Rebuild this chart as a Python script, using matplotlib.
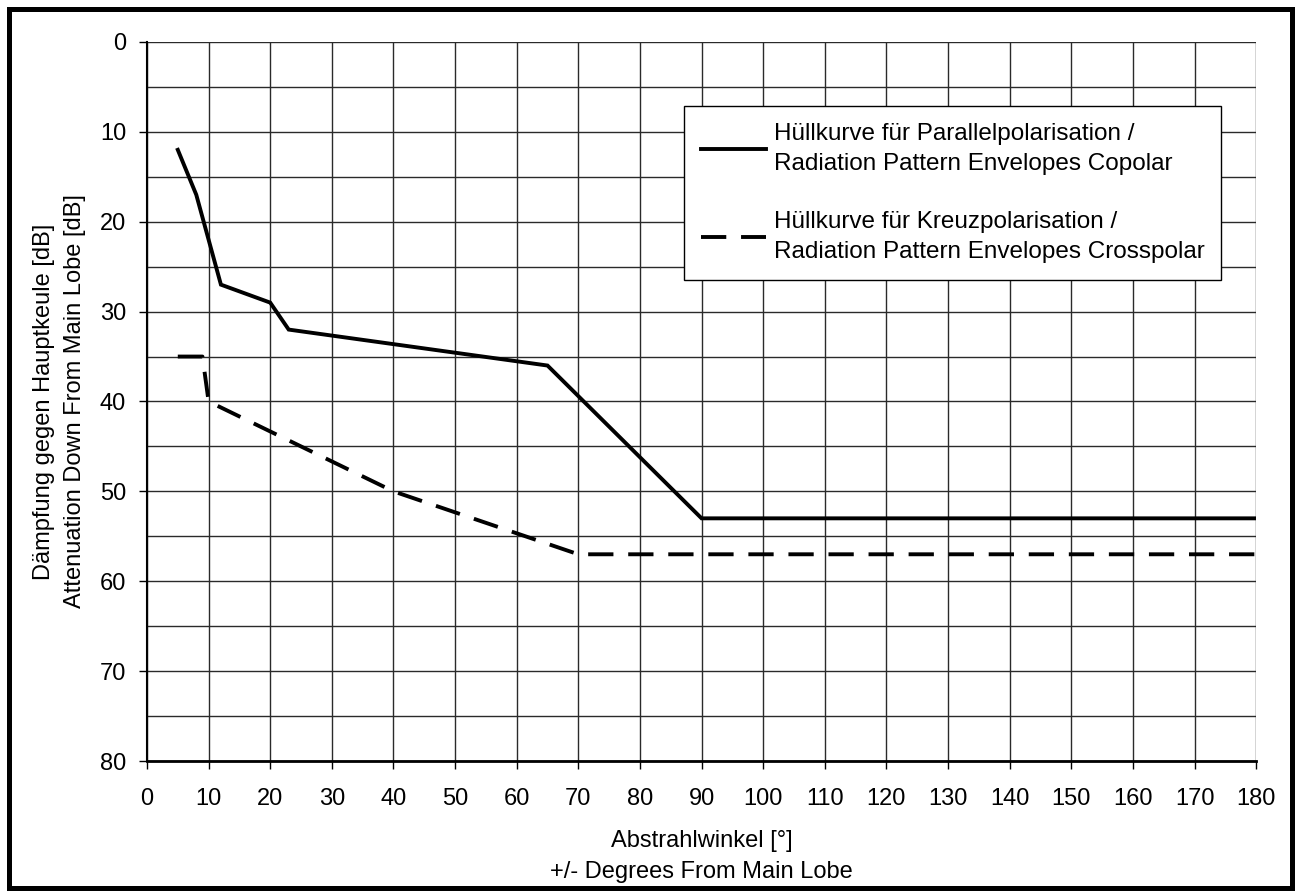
import matplotlib.pyplot as plt
from matplotlib.patches import Rectangle

plt.rcParams['font.family'] = ['Liberation Sans', 'DejaVu Sans']

# envelope data: angle [deg], attenuation [dB]
copol_x = [5, 8, 12, 20, 23, 65, 90, 180]
copol_y = [12, 17, 27, 29, 32, 36, 53, 53]
xpol_x = [5, 9, 10, 40, 70, 180]
xpol_y = [35, 35, 40, 50, 57, 57]

copol_label = "Hüllkurve für Parallelpolarisation /\nRadiation Pattern Envelopes Copolar"
xpol_label = "Hüllkurve für Kreuzpolarisation /\nRadiation Pattern Envelopes Crosspolar"

xticks = list(range(0, 181, 10))
yticks = list(range(0, 81, 10))
ygrid = list(range(0, 81, 5))

FS = 17

fig = plt.figure(figsize=(12.95, 8.93), dpi=100)
ax = fig.add_axes([0.1135, 0.1478, 0.8565, 0.8052])

# grid
for v in xticks:
    ax.axvline(v, color='#2a2a2a', lw=1.0, zorder=1)
for v in ygrid:
    ax.axhline(v, color='#2a2a2a', lw=1.0, zorder=1)

ax.plot(copol_x, copol_y, color='black', lw=2.8, solid_joinstyle='miter',
        label=copol_label, zorder=3)
ax.plot(xpol_x, xpol_y, color='black', lw=2.8, dashes=(6.5, 3.8),
        dash_capstyle='butt', label=xpol_label, zorder=3)

ax.set_xlim(0, 180)
ax.set_ylim(80, 0)
ax.set_xticks(xticks)
ax.set_yticks(yticks)
ax.tick_params(labelsize=FS, length=6, width=1, direction='out')
ax.tick_params(axis='x', pad=13.5)
ax.tick_params(axis='y', pad=9)

for s in ['top', 'right']:
    ax.spines[s].set_visible(False)
ax.spines['left'].set_linewidth(1.5)
ax.spines['bottom'].set_linewidth(2.0)

ax.set_xlabel("Abstrahlwinkel [°]\n+/- Degrees From Main Lobe", fontsize=FS,
              linespacing=1.5, labelpad=14.5)
ax.set_ylabel("Dämpfung gegen Hauptkeule [dB]\nAttenuation Down From Main Lobe [dB]",
              fontsize=FS, linespacing=1.5, labelpad=10)

leg = ax.legend(loc='upper left', bbox_to_anchor=(0.4839, 0.911), fontsize=17.5,
                frameon=True, fancybox=False, edgecolor='black', framealpha=1,
                handlelength=2.7, handletextpad=0.3, labelspacing=1.5,
                borderpad=0.7, borderaxespad=0)
leg.get_frame().set_linewidth(1.0)
for t in leg.get_texts():
    t.set_linespacing(1.45)
leg.set_zorder(5)

# figure border
fig.patches.append(Rectangle((0.0073, 0.0055), 0.9900, 0.9839, transform=fig.transFigure,
                             fill=False, edgecolor='black', lw=3.6))

fig.savefig('out.png', dpi=100)
